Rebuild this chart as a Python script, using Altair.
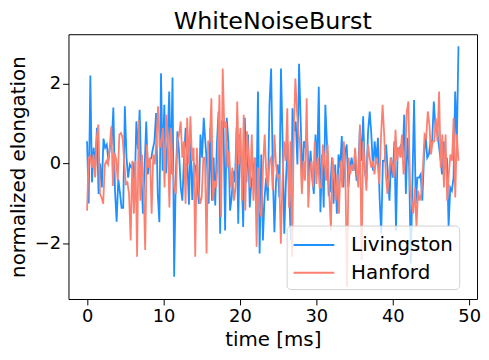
import altair as alt
import numpy as np
import pandas as pd

# Values (normalized elongation)
livingston = [
    0.56, -1.00, 2.21, -0.47, 0.40, -0.08, 0.90, -0.76, 0.00, -0.60,
    0.63, 0.40, 0.48, 0.07, 0.44, 0.48, 1.41, -0.68, -1.46, -0.39,
    -0.72, -1.11, -1.11, 1.44, 0.15, -0.35, -0.02, -0.10, -0.02, -0.60,
    1.06, 0.36, 1.35, -0.27, -1.26, -0.14, 1.06, -0.27, 0.11, 0.13,
    0.36, 0.56, 1.27, -0.75, -1.47, 2.27, -0.18, 1.48, -0.25, 0.56,
    1.81, -0.27, 2.16, -2.84, -0.31, 0.81, 0.27, -0.60, -0.93, 0.15,
    0.90, 0.07, -1.03, 0.66, -0.91, 0.00, -0.08, -0.47, -1.01, 0.73,
    0.15, 1.15, 0.52, -0.02, -1.01, 0.90, -0.93, 0.15, -1.05, 0.48,
    1.31, -1.76, 1.06, 1.06, -1.68, 1.15, 0.56, -1.18, -0.85, -0.18,
    -0.47, 0.90, -1.51, 0.73, -0.10, -1.59, 1.15, -0.47, 0.73, -1.10,
    -0.43, -0.27, 0.15, -1.01, 1.81, -2.26, 0.23, -1.93, -0.85, -0.35,
    -0.93, 1.48, 2.39, -0.18, -1.72, -0.43, -0.02, -0.85, 2.39, 0.56,
    -1.76, -0.47, 0.48, -0.76, -1.93, 1.39, 0.81, 1.06, -0.02, 2.51,
    1.06, -0.43, 0.56, 0.40, 0.56, -0.35, 0.32, -0.35, -0.76, 0.73,
    -0.14, 1.93, -1.22, 0.23, -1.10, 1.48, 0.48, -0.76, -0.68, 0.15,
    -1.01, -0.02, -1.26, 0.23, -0.10, 0.69, -0.60, 0.27, 0.48, -0.60,
    -0.10, 0.15, -0.18, 0.07, -0.43, -0.27, 0.90, 0.07, 1.19, -0.18,
    -0.43, 0.81, 1.31, 0.73, -0.18, 0.56, 0.07, 0.65, -0.85, -1.76,
    0.07, 0.07, 0.48, -0.27, -0.93, 0.15, -0.35, 0.56, -1.68, 0.40,
    0.32, 0.48, 0.15, 1.23, -0.76, 0.65, -0.10, -2.51, -0.43, 1.60,
    -1.01, -0.35, -0.35, -0.27, -0.93, 0.15, 0.73, 0.15, 0.23, 0.56,
    0.56, 1.56, 0.90, 0.90, 0.48, 0.15, -0.27, 0.56, -0.10, 0.15,
    -1.59, -0.60, -0.68, -0.35, 1.81, 0.48, 2.95,
]

hanford = [
    -1.18, 0.15, 0.19, -0.10, 0.23, -0.35, 0.65, 0.98, -0.76, -0.85,
    -1.01, -0.02, 0.07, -0.02, 0.40, 0.94, -0.56, 0.27, 0.11, -0.43,
    0.73, 0.77, 0.65, 0.07, -0.51, -0.47, -0.76, -1.93, 0.07, -1.26,
    0.07, -2.34, 1.10, -0.93, 0.23, -0.60, -2.17, 0.48, -0.10, 0.15,
    -1.26, 0.23, -0.02, 0.65, 1.44, 0.40, 0.56, 0.90, -0.60, 1.23,
    0.56, -1.10, 0.90, -0.18, -0.60, -0.76, 0.56, 0.73, 1.06, 0.15,
    0.56, -1.01, 1.15, -0.02, 1.19, 0.07, 0.40, -2.34, 0.40, -0.60,
    -1.01, -0.85, 0.15, 0.15, -2.26, 0.56, 0.56, 1.64, -0.93, -0.43,
    -0.60, 0.15, 1.73, -1.34, 2.39, 0.90, 1.06, -0.10, 0.32, -0.60,
    -0.10, -0.93, -0.60, 1.56, -0.02, 0.90, -0.93, 1.23, -1.18, 0.81,
    0.15, -0.60, 0.73, -0.93, 0.15, -2.09, -0.10, -1.18, -1.34, -0.02,
    0.73, -0.27, -0.60, 0.07, 0.15, -0.68, 0.73, -0.02, -0.35, -0.27,
    -2.01, -0.43, 0.56, 0.07, 1.39, -1.10, 0.56, -2.34, 0.73, 2.14,
    1.31, 0.73, 0.40, -0.76, 0.07, -0.43, 1.64, -1.10, -0.18, 0.07,
    -0.60, 0.56, -0.51, 0.15, -0.60, -0.60, 0.48, 0.15, -0.43, 0.48,
    -0.76, -1.68, 0.15, -0.27, -0.93, -0.27, -1.26, 0.07, -0.60, 0.56,
    -0.35, -3.10, 0.15, -0.27, -0.02, -0.18, 0.40, -0.18, -0.60, 0.98,
    -2.42, 0.56, -0.10, -0.68, 0.48, 0.15, -0.10, 0.07, -0.27, 0.15,
    -0.02, -0.51, 0.65, 1.48, 0.73, -0.27, -0.76, -0.27, 0.15, -0.02,
    -0.35, 0.85, 0.07, 0.40, 0.15, 0.73, -0.27, 0.15, 1.31, 1.56,
    -0.60, -0.93, -1.26, -0.60, -1.59, -0.68, -0.93, -0.76, -0.10, 0.73,
    0.65, 1.31, 0.98, 0.23, 0.56, 0.56, 1.15, 0.56, 1.81, -0.10,
    0.73, -0.60, 0.73, -0.93, -0.27, 0.23, 0.07, 1.15, -0.85, 0.73,
    0.07,
]

t_end_ms = 48.6
series_names = ["Livingston", "Hanford"]
series_colors = ["#1E90FF", "#FA8072"]
x_ticks = [0, 10, 20, 30, 40, 50]
y_ticks = [-2, 0, 2]

df = pd.concat([
    pd.DataFrame({"t": np.linspace(0, t_end_ms, len(livingston)),
                  "v": livingston, "series": "Livingston"}),
    pd.DataFrame({"t": np.linspace(0, t_end_ms, len(hanford)),
                  "v": hanford, "series": "Hanford"}),
])

FONT = "DejaVu Sans"

color = alt.Color(
    "series:N",
    scale=alt.Scale(domain=series_names, range=series_colors),
    legend=alt.Legend(
        title=None, orient="none", legendX=220, legendY=193,
        symbolType="M-1,0H2.28", symbolSize=625, symbolStrokeWidth=2,
        labelFontSize=20, labelFont=FONT, labelColor="black", labelOffset=32,
        padding=6, rowPadding=4,
        fillColor="rgba(255,255,255,0.8)", strokeColor="#d0d0d0",
        cornerRadius=4,
    ),
)

x = alt.X("t:Q",
          scale=alt.Scale(domain=[-2.43, 51.03], nice=False, zero=False),
          axis=alt.Axis(values=x_ticks, title="time [ms]", labelPadding=3,
                        titlePadding=4))
y = alt.Y("v:Q",
          scale=alt.Scale(domain=[-3.4, 3.25], nice=False, zero=False),
          axis=alt.Axis(values=y_ticks, title="normalized elongation",
                        labelPadding=2, titlePadding=6))

base = alt.Chart(df).mark_line(strokeWidth=1.8).encode(x=x, y=y, color=color)

chart = alt.layer(
    base.transform_filter(alt.datum.series == "Livingston"),
    base.transform_filter(alt.datum.series == "Hanford"),
).properties(
    width=412, height=267,
    padding={"left": 0, "top": 1, "right": 0, "bottom": 0},
    title=alt.TitleParams("WhiteNoiseBurst", fontSize=24, font=FONT,
                          fontWeight="normal", color="black", offset=0),
).configure_view(
    stroke="black", strokeWidth=1
).configure_axis(
    domain=False, grid=False, tickColor="black", tickSize=6,
    labelColor="black", titleColor="black", labelFont=FONT, titleFont=FONT,
    labelFontSize=18, titleFontSize=20, titleFontWeight="normal",
)

chart.save("out.html", embed_options={"renderer": "svg", "actions": False})
